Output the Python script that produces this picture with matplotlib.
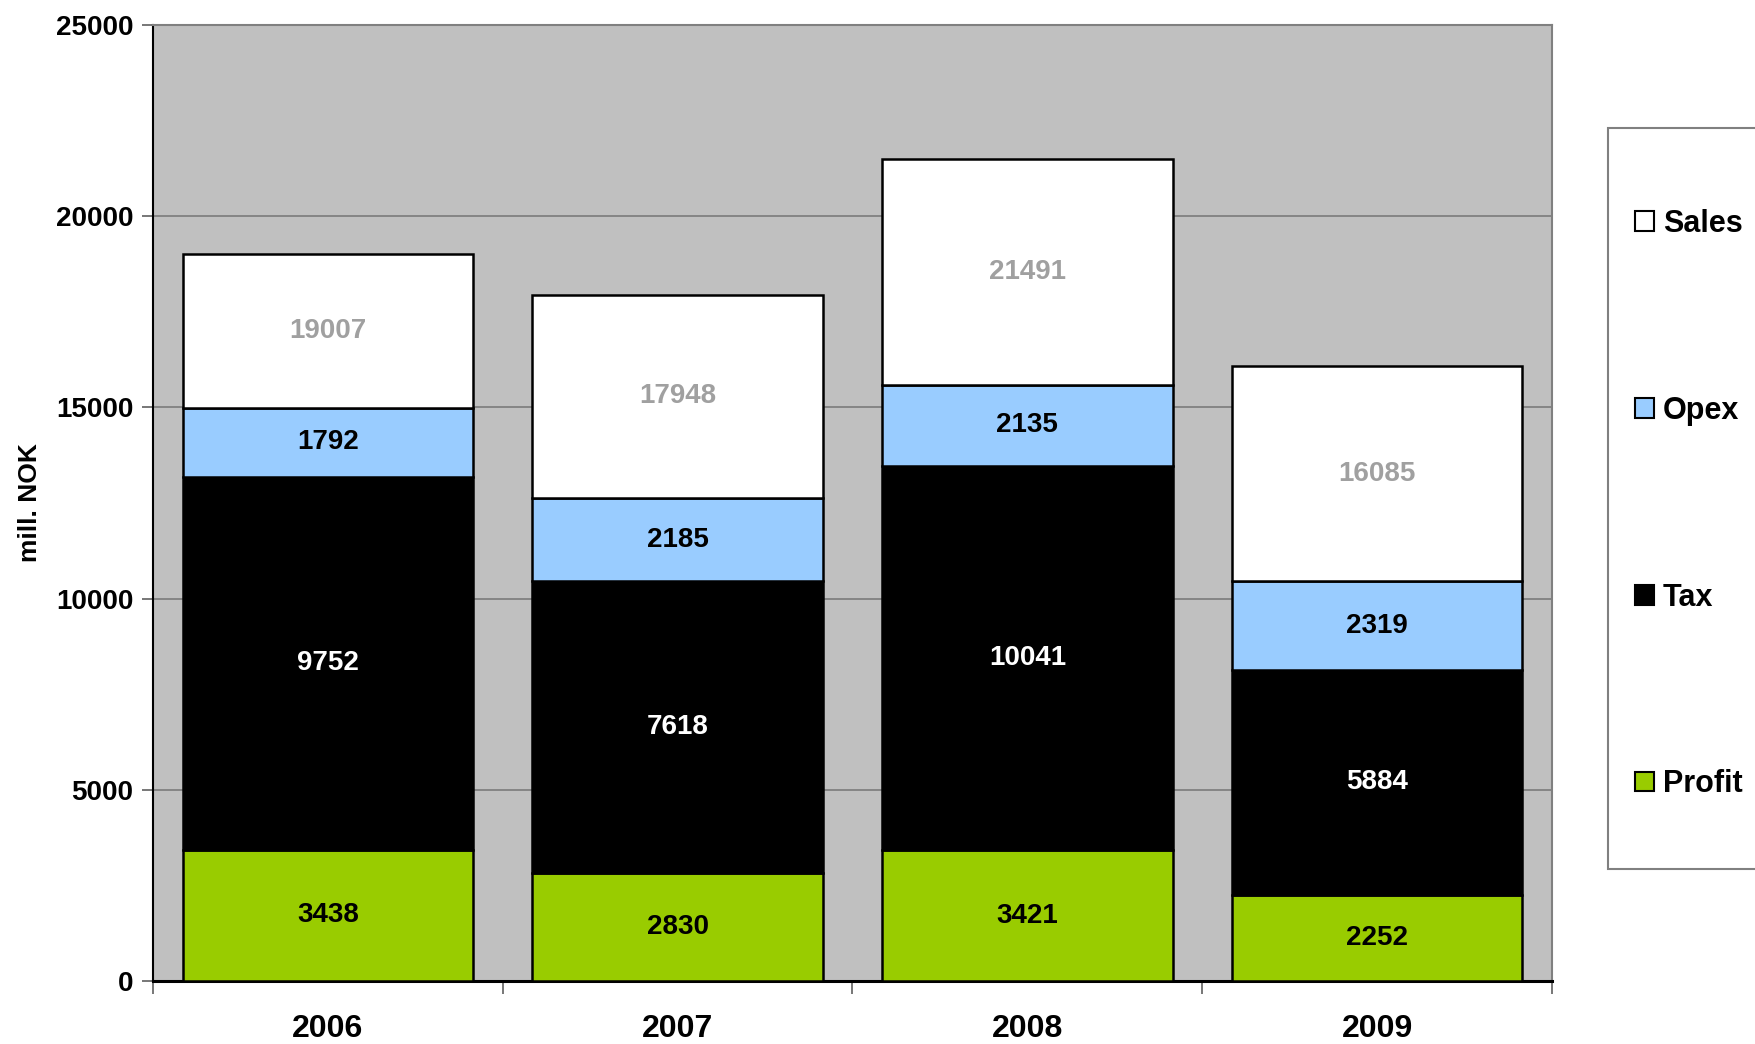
import numpy as np
import matplotlib
matplotlib.use("Agg")
import matplotlib.pyplot as plt
from matplotlib.patches import Rectangle

plt.rcParams['font.family'] = ['Liberation Sans', 'DejaVu Sans']
plt.rcParams['font.weight'] = 'bold'

# data (mill. NOK)
years = ['2006', '2007', '2008', '2009']
profit = np.array([3438, 2830, 3421, 2252])
tax = np.array([9752, 7618, 10041, 5884])
opex = np.array([1792, 2185, 2135, 2319])
sales = np.array([19007, 17948, 21491, 16085])

c_profit = '#99CC00'
c_tax = '#000000'
c_opex = '#99CCFF'
c_sales = '#FFFFFF'

fig = plt.figure(figsize=(17.56, 10.44), dpi=100)
ax = fig.add_axes([153/1756, 1-981/1044, (1552-153)/1756, (981-25)/1044])
ax.set_facecolor('#C0C0C0')

x = np.arange(len(years))
w = 0.83
rest = sales - profit - tax - opex

b1 = ax.bar(x, profit, w, color=c_profit, edgecolor='black', lw=1.8, zorder=3, label='Profit')
b2 = ax.bar(x, tax, w, bottom=profit, color=c_tax, edgecolor='black', lw=1.8, zorder=3, label='Tax')
b3 = ax.bar(x, opex, w, bottom=profit+tax, color=c_opex, edgecolor='black', lw=1.8, zorder=3, label='Opex')
b4 = ax.bar(x, rest, w, bottom=profit+tax+opex, color=c_sales, edgecolor='black', lw=1.8, zorder=3, label='Sales')

# value labels in the middle of each segment
fs_lab = 20
for i in range(len(years)):
    ax.text(x[i], profit[i]/2, str(profit[i]), ha='center', va='center', fontsize=fs_lab, color='black', zorder=4)
    ax.text(x[i], profit[i]+tax[i]/2, str(tax[i]), ha='center', va='center', fontsize=fs_lab, color='white', zorder=4)
    ax.text(x[i], profit[i]+tax[i]+opex[i]/2, str(opex[i]), ha='center', va='center', fontsize=fs_lab, color='black', zorder=4)
    ax.text(x[i], (profit[i]+tax[i]+opex[i]+sales[i])/2, str(sales[i]), ha='center', va='center', fontsize=fs_lab, color='#A0A0A0', zorder=4)

ax.set_ylim(0, 25000)
ax.set_xlim(-0.5, len(years)-0.5)
ax.set_yticks(np.arange(0, 25001, 5000))
ax.yaxis.grid(True, color='#808080', lw=1.3, zorder=1)
ax.tick_params(axis='y', labelsize=20, length=8, width=1.2, pad=6, color='#606060')

ax.set_xticks(x)
ax.set_xticklabels(years)
ax.set_xticks(np.arange(-0.5, len(years), 1), minor=True)
ax.tick_params(axis='x', which='major', length=0, labelsize=23, pad=24)
ax.tick_params(axis='x', which='minor', length=9, width=1.2, color='#606060')

ax.set_ylabel('mill. NOK', fontsize=19, fontweight='bold')
ax.yaxis.set_label_coords(-0.0794, 0.5)

for s in ['top', 'right']:
    ax.spines[s].set_color('#808080')
    ax.spines[s].set_linewidth(1.5)
ax.spines['left'].set_color('black')
ax.spines['left'].set_linewidth(1.5)
ax.spines['bottom'].set_color('black')
ax.spines['bottom'].set_linewidth(2.2)

# legend frame drawn separately so the entries can be spread out
fig.patches.append(Rectangle((1608/1756, 1-869/1044), 0.2, (869-128)/1044,
                             transform=fig.transFigure, facecolor='white',
                             edgecolor='#808080', lw=1.5, zorder=0))
leg = fig.legend([b4, b3, b2, b1], ['Sales', 'Opex', 'Tax', 'Profit'],
                 loc='upper left', bbox_to_anchor=(1635/1756, 1-209/1044),
                 frameon=False, fontsize=22, handlelength=0.62, handleheight=0.62,
                 handletextpad=0.3, labelspacing=5.13, borderpad=0, borderaxespad=0)
for h in leg.legend_handles:
    h.set_linewidth(1.5)

fig.savefig('out.png', dpi=100)
